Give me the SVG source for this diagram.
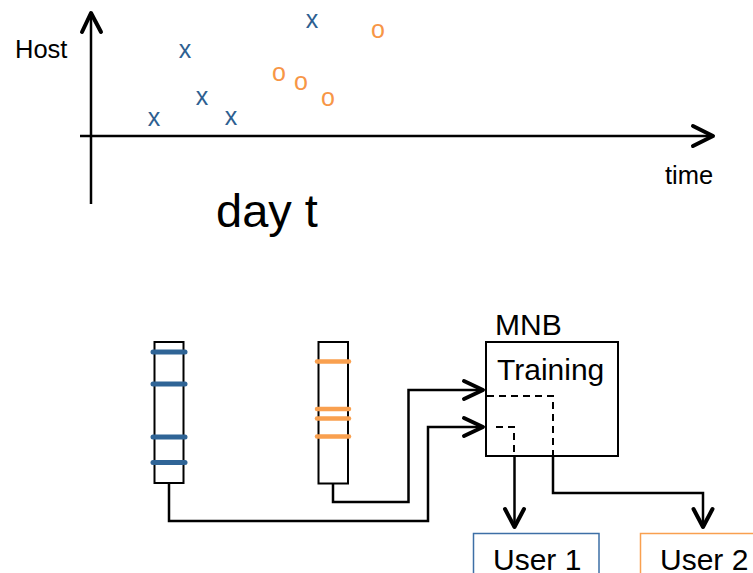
<svg xmlns="http://www.w3.org/2000/svg" width="753" height="573" viewBox="0 0 753 573">
<style>
text{font-family:"Liberation Sans",Arial,sans-serif;fill:#000}
.ln{fill:none;stroke:#000;stroke-width:2.5}
.ah{fill:none;stroke:#000;stroke-width:4;stroke-linecap:round;stroke-linejoin:round}
.dash{fill:none;stroke:#000;stroke-width:2;stroke-dasharray:7 5}
.bx{fill:#fff;stroke:#000;stroke-width:2}
.bs{stroke:#2f6496;stroke-width:5;stroke-linecap:round}
.os{stroke:#f9a04f;stroke-width:4.5;stroke-linecap:round}
.xm{font-size:25px;fill:#2d5f91;text-anchor:middle}
.om{font-size:25px;fill:#f79646;text-anchor:middle}
</style>
<rect width="753" height="573" fill="#fff"/>
<g id="chart">
<line class="ln" x1="91" y1="204" x2="91" y2="14"/>
<polyline class="ah" points="82,32 91,13 101,32"/>
<line class="ln" x1="80" y1="136" x2="712" y2="136"/>
<polyline class="ah" points="693,126 713,136 693,146"/>
<text x="15" y="58" font-size="25.5">Host</text>
<text x="665" y="184" font-size="25.5">time</text>
<text x="216" y="227" font-size="47">day t</text>
<text class="xm" x="154" y="126">x</text>
<text class="xm" x="185" y="58">x</text>
<text class="xm" x="202" y="105">x</text>
<text class="xm" x="231" y="125">x</text>
<text class="xm" x="312" y="28">x</text>
<text class="om" x="279" y="81">o</text>
<text class="om" x="301" y="90">o</text>
<text class="om" x="328" y="106">o</text>
<text class="om" x="378" y="38">o</text>
</g>
<g id="bar1">
<rect class="bx" x="154.5" y="342" width="29" height="141"/>
<line class="bs" x1="153" y1="352" x2="185" y2="352"/>
<line class="bs" x1="153" y1="384" x2="185" y2="384"/>
<line class="bs" x1="153" y1="437" x2="185" y2="437"/>
<line class="bs" x1="153" y1="462.5" x2="185" y2="462.5" stroke-width="7"/>
</g>
<g id="bar2">
<rect class="bx" x="318.5" y="342" width="29.5" height="141.5"/>
<line class="os" x1="317" y1="361.5" x2="349" y2="361.5"/>
<line class="os" x1="317" y1="409" x2="349" y2="409"/>
<line class="os" x1="317" y1="418.5" x2="349" y2="418.5"/>
<line class="os" x1="317" y1="436.5" x2="349" y2="436.5"/>
</g>
<g id="mnb">
<text x="495" y="335" font-size="30">MNB</text>
<rect class="bx" x="486" y="342" width="132" height="114"/>
<text x="497" y="380" font-size="30">Training</text>
<path class="dash" d="M487,396 H553 V456"/>
<path class="dash" d="M496,427 H514 V456" stroke-dasharray="10 8"/>
</g>
<g id="user1">
<rect x="473.5" y="533.5" width="125.5" height="60" fill="#fff" stroke="#3d6fa6" stroke-width="1.5"/>
<text x="493" y="570" font-size="30">User 1</text>
</g>
<g id="user2">
<rect x="640.5" y="533.5" width="130" height="60" fill="#fff" stroke="#f9a04f" stroke-width="1.5"/>
<text x="660" y="570" font-size="30">User 2</text>
</g>
<g id="connectors">
<path class="ln" d="M169,483 V521 H428 V427 H482"/>
<polyline class="ah" points="464,418 483,427 464,436"/>
<path class="ln" d="M333,484 V502 H408.5 V390 H482"/>
<polyline class="ah" points="464,381 483,390 464,399"/>
<path class="ln" d="M514.5,456 V526"/>
<polyline class="ah" points="505,509 514.5,527 524,509"/>
<path class="ln" d="M553,456 V493 H703 V526"/>
<polyline class="ah" points="693.5,509 703,527 712.5,509"/>
</g>
</svg>
